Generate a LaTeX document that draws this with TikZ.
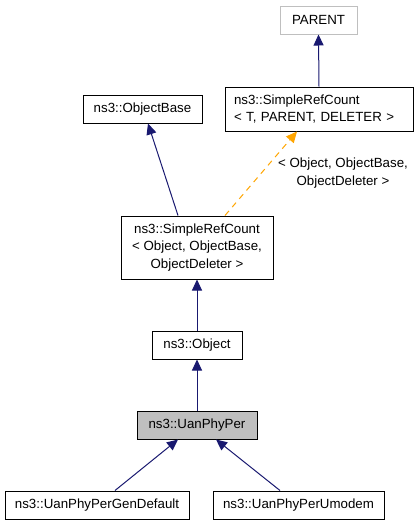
\documentclass[tikz,border=0pt]{standalone}
\usepackage{fontspec}
\setmainfont{Liberation Sans}
\usetikzlibrary{arrows.meta}
\definecolor{edgeblue}{RGB}{25,25,112}
\definecolor{edgeorange}{RGB}{255,165,0}
\definecolor{boxgray}{RGB}{191,191,191}
\tikzset{
  box/.style={draw=black, line width=1pt, rectangle, inner sep=0pt, font=\fontsize{13.3}{17.5}\selectfont},
  inh/.style={draw=edgeblue, line width=1pt, -{Triangle[width=10pt,length=11pt]}},
  tmpl/.style={draw=edgeorange, line width=1pt, dashed, dash pattern=on 6pt off 5pt, -{Triangle[width=10pt,length=11pt,fill=edgeorange]}},
  lbl/.style={inner sep=0pt, align=center, font=\fontsize{13.3}{18}\selectfont}
}
\begin{document}
\begin{tikzpicture}[x=1pt,y=-1pt]
\useasboundingbox (0,0) rectangle (417,525);
\node[box, draw=boxgray, minimum width=77pt, minimum height=28pt] (parent) at (318.5,20) {PARENT};
\node[box, minimum width=188pt, minimum height=44pt, align=left, text width=170pt] (srct) at (319,109) {ns3::SimpleRefCount\\< T, PARENT, DELETER >};
\node[box, minimum width=119pt, minimum height=28pt] (objbase) at (142.5,109) {ns3::ObjectBase};
\node[box, minimum width=152pt, minimum height=63pt, align=center] (srco) at (197,247.5) {ns3::SimpleRefCount\\< Object, ObjectBase,\\ObjectDeleter >};
\node[box, minimum width=90pt, minimum height=28pt] (object) at (197,345) {ns3::Object};
\node[box, fill=boxgray, minimum width=120pt, minimum height=28pt] (uan) at (197,425) {ns3::UanPhyPer};
\node[box, minimum width=184pt, minimum height=28pt] (gen) at (97,505) {ns3::UanPhyPerGenDefault};
\node[box, minimum width=171pt, minimum height=28pt] (umodem) at (298.5,505) {ns3::UanPhyPerUmodem};
\node[lbl] (tlabel) at (343,173) {< Object, ObjectBase,\\ObjectDeleter >};
\draw[inh] (srct.north) -- (parent.south);
\draw[inh] ([xshift=-19pt]srco.north) -- ([xshift=5.5pt]objbase.south);
\draw[tmpl] ([xshift=28pt]srco.north) -- ([xshift=-22pt]srct.south);
\draw[inh] (object.north) -- (srco.south);
\draw[inh] (uan.north) -- (object.south);
\draw[inh] ([xshift=18pt]gen.north) -- ([xshift=-19pt]uan.south);
\draw[inh] ([xshift=-18.5pt]umodem.north) -- ([xshift=19pt]uan.south);
\end{tikzpicture}
\end{document}
